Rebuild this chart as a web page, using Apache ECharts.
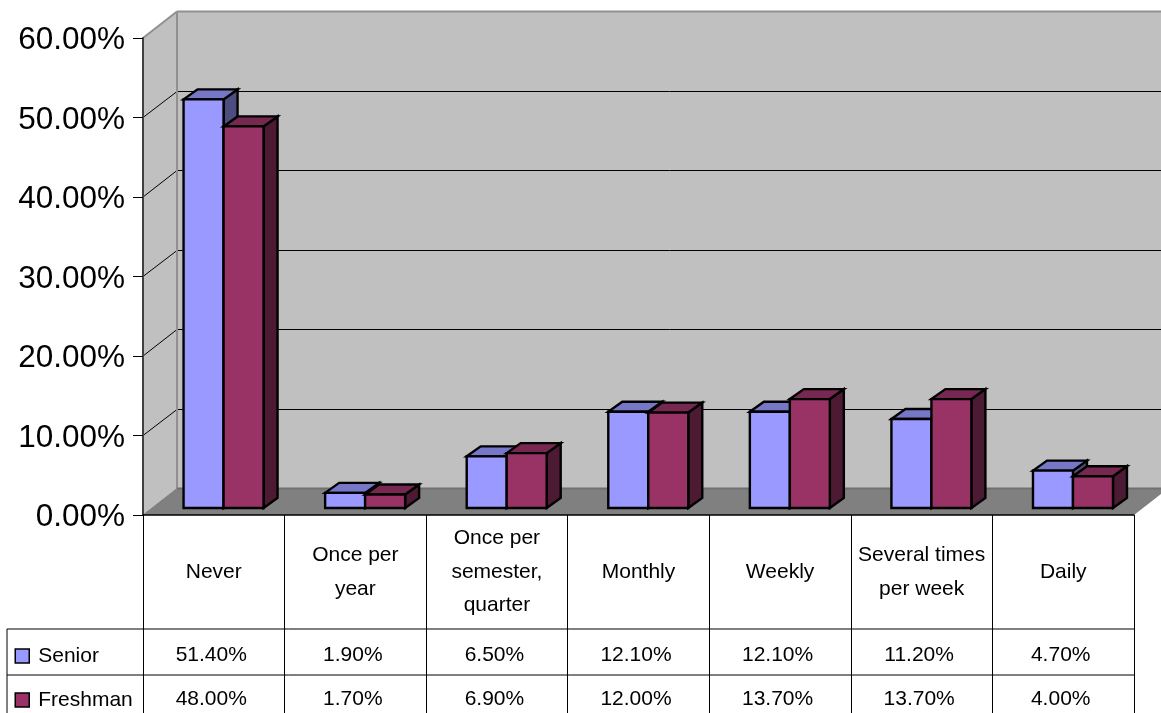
<!DOCTYPE html>
<html>
<head>
<meta charset="utf-8">
<style>html,body{margin:0;padding:0;background:#fff;overflow:hidden}#c{width:1161px;height:713px}</style>
<script src="https://cdn.jsdelivr.net/npm/echarts@6/dist/echarts.min.js"></script>
</head>
<body>
<div id="c"></div>
<script>
const categories = ['Never','Once per\nyear','Once per\nsemester,\nquarter','Monthly','Weekly','Several times\nper week','Daily'];
const senior = [51.4,1.9,6.5,12.1,12.1,11.2,4.7];
const freshman = [48.0,1.7,6.9,12.0,13.7,13.7,4.0];
const yTicks = [0,10,20,30,40,50,60];

const FONT = '"Liberation Sans", Arial, sans-serif';
const WALL_DX = 34, WALL_DY = -26.5;
const BAR_DX = 14, BAR_DY = -10;

const chart = echarts.init(document.getElementById('c'));

function renderWalls(params, api) {
  const cs = params.coordSys;
  const L = cs.x, R = cs.x + cs.width, B = cs.y + cs.height, T = cs.y;
  const kids = [];
  const poly = (points, fill, stroke, lw) => ({type:'polygon', shape:{points}, style:{fill, stroke:stroke||null, lineWidth:lw||0}, silent:true});
  const line = (a, b, stroke, lw) => ({type:'line', shape:{x1:a[0],y1:a[1],x2:b[0],y2:b[1]}, style:{stroke, lineWidth:lw}, silent:true});
  kids.push(poly([[L+WALL_DX,T+WALL_DY],[R+WALL_DX,T+WALL_DY],[R+WALL_DX,B+WALL_DY],[L+WALL_DX,B+WALL_DY]], '#c0c0c0'));
  kids.push(poly([[L,T],[L+WALL_DX,T+WALL_DY],[L+WALL_DX,B+WALL_DY],[L,B]], '#c0c0c0'));
  kids.push(poly([[L,B],[L+WALL_DX,B+WALL_DY],[R+WALL_DX,B+WALL_DY],[R,B]], '#808080'));
  yTicks.forEach(v => {
    if (v === 0 || v === 60) return;
    const y = api.coord([0, v])[1];
    const yb = Math.floor(y + WALL_DY) + 0.5;
    kids.push(line([L,y],[L+WALL_DX,yb],'#000',1));
    kids.push(line([L+WALL_DX,yb],[R+WALL_DX,yb],'#000',1));
  });
  kids.push(line([L,T],[L+WALL_DX,T+WALL_DY],'#909090',2));
  kids.push(line([L+WALL_DX,T+WALL_DY],[R+WALL_DX,T+WALL_DY],'#909090',2));
  kids.push(line([L+WALL_DX,T+WALL_DY],[L+WALL_DX,B+WALL_DY],'#909090',2));
  kids.push(line([L+WALL_DX,B+WALL_DY],[R+WALL_DX,B+WALL_DY],'#707070',2));
  kids.push(line([L,B],[L+WALL_DX,B+WALL_DY],'#808080',1));
  return {type:'group', children:kids};
}

function barRenderer(idx, front, topFace, sideFace, rowOffset) {
  return function (params, api) {
    const cat = api.value(0), val = api.value(1);
    const base = api.coord([cat, 0]);
    const top = api.coord([cat, val]);
    const band = api.size([1, 0])[0];
    const w = band * 0.2825;
    const x1 = base[0] - band * 0.2135 + idx * w;
    const x2 = x1 + w;
    const yB = base[1] - 7;
    const yT = top[1] - 7;
    const bs = {stroke:'#000', lineWidth:2.4, lineJoin:'miter'};
    const face = (points, fill) => ({type:'polygon', shape:{points}, style:Object.assign({fill}, bs), silent:true});
    return {type:'group', children:[
      face([[x2,yB],[x2+BAR_DX,yB+BAR_DY],[x2+BAR_DX,yT+BAR_DY],[x2,yT]], sideFace),
      face([[x1,yT],[x1+BAR_DX,yT+BAR_DY],[x2+BAR_DX,yT+BAR_DY],[x2,yT]], topFace),
      face([[x1,yB],[x1,yT],[x2,yT],[x2,yB]], front),
      {type:'text', silent:true, z2:10, style:{
        x: base[0] - 2.5, y: base[1] + rowOffset,
        text: val.toFixed(2) + '%', fill:'#000', font:'21px ' + FONT,
        textAlign:'center', textVerticalAlign:'middle'
      }}
    ]};
  };
}

const hRule = (x1, y, x2) => ({type:'line', silent:true, z:20, shape:{x1, y1:y, x2, y2:y}, style:{stroke:'#000', lineWidth:1}});
const legendBase = (name, top) => ({
  orient:'vertical', left:14.5, top, padding:0, itemWidth:14, itemHeight:14,
  data:[name], selectedMode:false, icon:'rect',
  itemStyle:{borderColor:'#000', borderWidth:1.5},
  textStyle:{fontSize:21, lineHeight:24, color:'#000', fontFamily:FONT, padding:[0,0,0,4]}
});

chart.setOption({
  animation:false,
  backgroundColor:'#ffffff',
  textStyle:{fontFamily:FONT},
  grid:{left:143, top:38, width:991, height:477, containLabel:false},
  legend:[legendBase('Senior',644), legendBase('Freshman',688)],
  xAxis:{
    type:'category', data:categories, z:5,
    axisLine:{show:true, lineStyle:{color:'#000', width:1.5}},
    axisTick:{show:true, length:198, alignWithLabel:false, lineStyle:{color:'#000', width:1}},
    axisLabel:{interval:0, margin:57, fontSize:21, lineHeight:33.5, color:'#000', fontFamily:FONT, verticalAlign:'middle', align:'center'},
    splitLine:{show:false}
  },
  yAxis:{
    type:'value', min:0, max:60, interval:10, z:5,
    axisLine:{show:true, lineStyle:{color:'#404040', width:2}},
    axisTick:{show:true, length:10, lineStyle:{color:'#000', width:1}},
    axisLabel:{margin:18, fontSize:31.5, color:'#000', fontFamily:FONT, verticalAlign:'top', lineHeight:5, formatter:v => v.toFixed(2) + '%'},
    splitLine:{show:false}
  },
  graphic:[
    hRule(7,629,1134),
    hRule(7,675,1134),
    {type:'line', silent:true, z:20, shape:{x1:7,y1:629,x2:7,y2:713}, style:{stroke:'#000', lineWidth:1}}
  ],
  series:[
    {type:'custom', name:'walls', z:1, renderItem:renderWalls, data:[[0,0]], silent:true, clip:false, legendHoverLink:false},
    {type:'custom', name:'Senior', z:2, clip:false, itemStyle:{color:'#9999ff'},
     renderItem:barRenderer(0,'#9999ff','#7777c8','#4d4d80',140.5),
     encode:{x:0,y:1}, data:senior.map((v,i)=>[i,v])},
    {type:'custom', name:'Freshman', z:3, clip:false, itemStyle:{color:'#993366'},
     renderItem:barRenderer(1,'#993366','#772850','#4d1a33',184.5),
     encode:{x:0,y:1}, data:freshman.map((v,i)=>[i,v])}
  ]
});
</script>
</body>
</html>
